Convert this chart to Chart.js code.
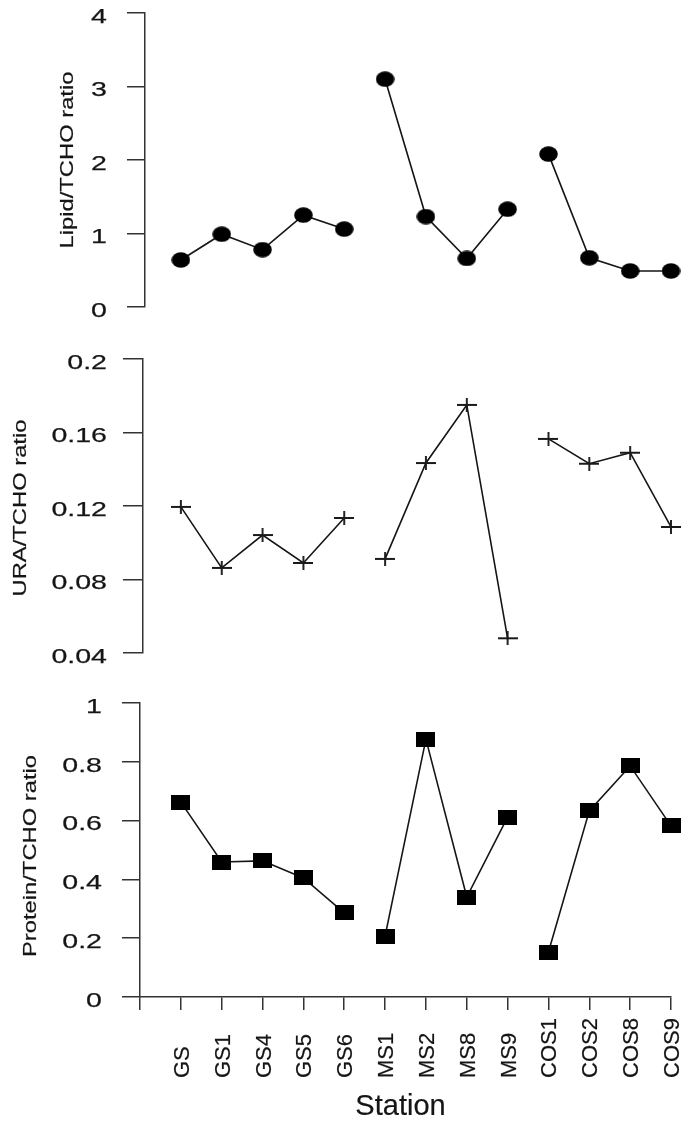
<!DOCTYPE html>
<html>
<head>
<meta charset="utf-8">
<script src="https://cdn.jsdelivr.net/npm/chart.js@4.4.1/dist/chart.umd.min.js"></script>
<style>
  html, body { margin: 0; padding: 0; background: #ffffff; }
  #page { position: relative; width: 685px; height: 1123px; overflow: hidden; }
  #page canvas { position: absolute; left: 0; }
</style>
</head>
<body>
<div id="page">
  <canvas id="lipid-chart" width="685" height="330" style="top:0px"></canvas>
  <canvas id="ura-chart" width="685" height="340" style="top:330px"></canvas>
  <canvas id="protein-chart" width="685" height="453" style="top:670px"></canvas>
</div>
<script>
const stations = ["GS", "GS1", "GS4", "GS5", "GS6", "MS1", "MS2", "MS8", "MS9", "COS1", "COS2", "COS8", "COS9"];
const stationGroups = ["GS", "GS", "GS", "GS", "GS", "MS", "MS", "MS", "MS", "COS", "COS", "COS", "COS"];

const lipidRatio = [0.64, 0.99, 0.78, 1.25, 1.06, 3.10, 1.23, 0.66, 1.33, 2.08, 0.67, 0.49, 0.49];
const uraRatio = [0.1195, 0.0863, 0.1042, 0.089, 0.1135, 0.0912, 0.1434, 0.175, 0.048, 0.1565, 0.143, 0.149, 0.1086];
const proteinRatio = [0.663, 0.459, 0.463, 0.405, 0.286, 0.207, 0.877, 0.34, 0.612, 0.153, 0.633, 0.786, 0.582];

const lipidTicks = ["0", "1", "2", "3", "4"];
const uraTicks = ["0.04", "0.08", "0.12", "0.16", "0.2"];
const proteinTicks = ["0", "0.2", "0.4", "0.6", "0.8", "1"];

const xAxisTitle = "Station";

const ink = "#151515";
const axisInk = "#333333";
const fontFamily = "'Liberation Sans', Arial, Helvetica, sans-serif";

const panels = [
  {
    id: "lipid-chart", title: "Lipid/TCHO ratio", values: lipidRatio, tickLabels: lipidTicks,
    min: 0, max: 4, step: 1, marker: "ellipse",
    axisWidth: 145, xMin: 0.1224, padTop: 13, padBottom: 23, tickLength: 18,
    labelGap: 38, titleX: 73, titleShift: 0, showX: false,
  },
  {
    id: "ura-chart", title: "URA/TCHO ratio", values: uraRatio, tickLabels: uraTicks,
    min: 0.04, max: 0.2, step: 0.04, marker: "cross",
    axisWidth: 143, xMin: 0.0734, padTop: 29, padBottom: 17, tickLength: 20,
    labelGap: 36, titleX: 26, titleShift: 2, showX: false,
  },
  {
    id: "protein-chart", title: "Protein/TCHO ratio", values: proteinRatio, tickLabels: proteinTicks,
    min: 0, max: 1, step: 0.2, marker: "square",
    axisWidth: 140, xMin: 0, padTop: 33, padBottom: 0, tickLength: 18,
    labelGap: 38, titleX: 36, titleShift: 6, showX: true,
  },
];

function makeMarker(kind) {
  const canvas = document.createElement("canvas");
  const ctx = canvas.getContext("2d");

  if (kind === "ellipse") {
    canvas.width = 19;
    canvas.height = 16;
    ctx.fillStyle = "#000000";
    ctx.beginPath();
    ctx.ellipse(9.5, 8, 9.3, 7.7, 0, 0, Math.PI * 2);
    ctx.fill();
  } else if (kind === "square") {
    canvas.width = 19;
    canvas.height = 15;
    ctx.fillStyle = "#000000";
    ctx.fillRect(0, 0, 19, 15);
  } else {
    canvas.width = 20;
    canvas.height = 14;
    ctx.strokeStyle = "#1a1a1a";
    ctx.lineWidth = 1.9;
    ctx.beginPath();
    ctx.moveTo(0, 7);
    ctx.lineTo(20, 7);
    ctx.moveTo(10, 0);
    ctx.lineTo(10, 14);
    ctx.stroke();
  }
  return canvas;
}

function buildDatasets(values, marker) {
  const groupNames = stationGroups.filter(function (name, index) {
    return stationGroups.indexOf(name) === index;
  });

  return groupNames.map(function (group) {
    const points = [];
    stations.forEach(function (station, index) {
      if (stationGroups[index] === group) {
        points.push({ x: index + 1, y: values[index] });
      }
    });
    return {
      label: group,
      data: points,
      borderColor: ink,
      borderWidth: 1.6,
      pointStyle: marker,
      pointRadius: 9,
      pointHoverRadius: 9,
      tension: 0,
      clip: false,
    };
  });
}

// the scanned figure has horizontally stretched lettering
function drawText(ctx, text, x, y, rotation, stretch, weight) {
  ctx.save();
  ctx.translate(x, y);
  ctx.rotate(rotation);
  ctx.scale(stretch, 1);
  ctx.fillText(text, 0, 0);
  if (weight) {
    ctx.lineWidth = weight;
    ctx.strokeText(text, 0, 0);
  }
  ctx.restore();
}

const axisText = {
  id: "axisText",
  afterDraw: function (chart, args, opts) {
    const ctx = chart.ctx;
    const area = chart.chartArea;
    const yScale = chart.scales.y;
    const xScale = chart.scales.x;

    ctx.save();
    ctx.fillStyle = ink;
    ctx.strokeStyle = ink;
    ctx.textBaseline = "alphabetic";

    ctx.font = "21px " + fontFamily;
    ctx.textAlign = "right";
    yScale.ticks.forEach(function (tick, index) {
      const y = yScale.getPixelForTick(index);
      drawText(ctx, tick.label, area.left - opts.labelGap, y + 9.7, 0, 1.36, 0.25);
    });

    ctx.font = "18px " + fontFamily;
    ctx.textAlign = "center";
    drawText(ctx, opts.title, opts.titleX, (area.top + area.bottom) / 2 + opts.titleShift, -Math.PI / 2, 1.32, 0.2);

    if (opts.showX) {
      ctx.font = "22px " + fontFamily;
      ctx.textAlign = "left";
      stations.forEach(function (station, index) {
        const x = xScale.getPixelForValue(index + 1);
        drawText(ctx, station, x + 8, area.bottom + 81, -Math.PI / 2, 1, 0.2);
      });

      ctx.font = "29px " + fontFamily;
      ctx.textAlign = "center";
      drawText(ctx, xAxisTitle, (area.left + area.right) / 2 - 5, area.bottom + 118, 0, 1, 0.2);
    }
    ctx.restore();
  },
};

function renderPanel(panel) {
  const tickLabels = panel.tickLabels;

  return new Chart(document.getElementById(panel.id), {
    type: "line",
    data: {
      datasets: buildDatasets(panel.values, makeMarker(panel.marker)),
    },
    options: {
      responsive: false,
      animation: false,
      events: [],
      layout: {
        padding: { top: panel.padTop, bottom: panel.padBottom, left: 0, right: 14 },
      },
      plugins: {
        legend: { display: false },
        tooltip: { enabled: false },
        axisText: {
          title: panel.title,
          labelGap: panel.labelGap,
          titleX: panel.titleX,
          titleShift: panel.titleShift,
          showX: panel.showX,
        },
      },
      scales: {
        x: {
          type: "linear",
          display: panel.showX,
          min: panel.xMin,
          max: stations.length,
          ticks: { display: false, stepSize: 1, maxTicksLimit: 30 },
          grid: {
            drawOnChartArea: false,
            drawTicks: true,
            tickLength: 13,
            color: axisInk,
            lineWidth: 1.5,
          },
          border: { display: true, color: axisInk, width: 1.5 },
          afterFit: function (scale) {
            if (panel.showX) {
              scale.height = 126;
            }
          },
        },
        y: {
          type: "linear",
          min: panel.min,
          max: panel.max,
          ticks: {
            display: false,
            stepSize: panel.step,
            callback: function (value, index) {
              return tickLabels[index];
            },
          },
          grid: {
            drawOnChartArea: false,
            drawTicks: true,
            tickLength: panel.tickLength,
            color: axisInk,
            lineWidth: 1.5,
          },
          border: { display: true, color: axisInk, width: 1.5 },
          afterFit: function (scale) {
            scale.width = panel.axisWidth;
          },
        },
      },
    },
    plugins: [axisText],
  });
}

panels.forEach(renderPanel);
</script>
</body>
</html>
